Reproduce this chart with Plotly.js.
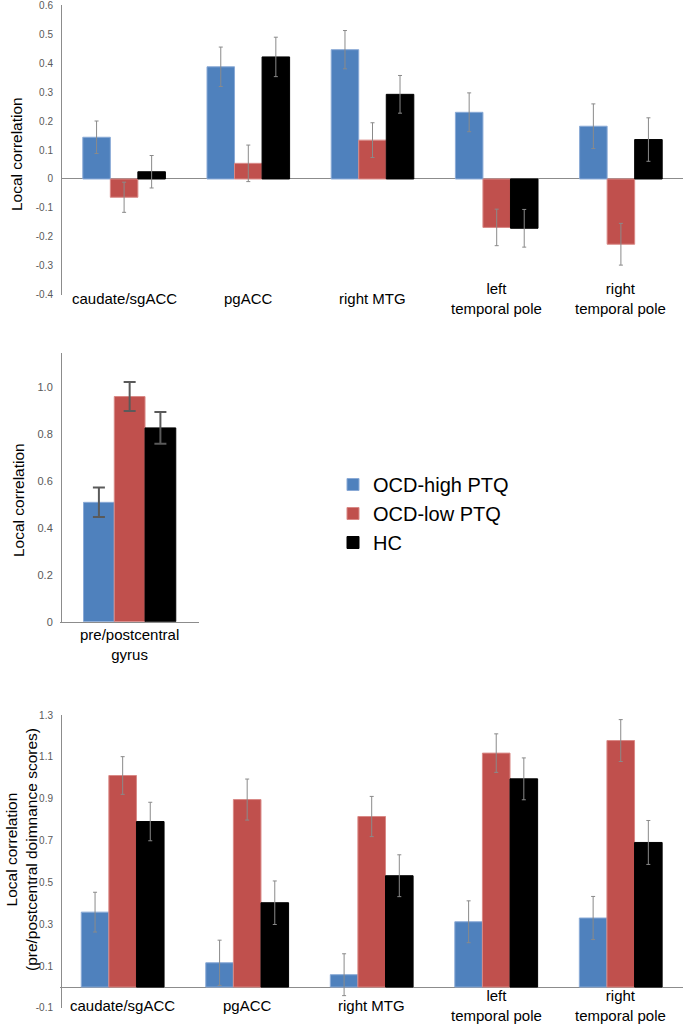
<!DOCTYPE html>
<html>
<head>
<meta charset="utf-8">
<script src="https://cdn.plot.ly/plotly-3.0.1.min.js"></script>
<style>html,body{margin:0;padding:0;background:#fff;}#chart{width:685px;height:1026px;}</style>
</head>
<body>
<div id="chart"></div>
<script>
// ---- data ----
const groups = ['OCD-high PTQ', 'OCD-low PTQ', 'HC'];
const categories = ['caudate/sgACC', 'pgACC', 'right MTG', 'left temporal pole', 'right temporal pole'];
const categoryLabels = ['caudate/sgACC', 'pgACC', 'right MTG', 'left<br>temporal pole', 'right<br>temporal pole'];

// top panel
const topHigh = [0.144, 0.387, 0.446, 0.230, 0.182];
const topHighErr = [0.056, 0.068, 0.066, 0.067, 0.077];
const topLow = [-0.063, 0.054, 0.134, -0.167, -0.225];
const topLowErr = [0.052, 0.063, 0.060, 0.063, 0.072];
const topHC = [0.025, 0.421, 0.292, -0.170, 0.136];
const topHCErr = [0.056, 0.068, 0.065, 0.065, 0.075];
const topTickVals = [-0.4, -0.3, -0.2, -0.1, 0, 0.1, 0.2, 0.3, 0.4, 0.5, 0.6];
const topTickText = ['-0.4', '-0.3', '-0.2', '-0.1', '0', '0.1', '0.2', '0.3', '0.4', '0.5', '0.6'];

// middle panel
const midCategory = ['pre/postcentral gyrus'];
const midLabel = 'pre/postcentral<br>gyrus';
const midHigh = [0.510];
const midHighErr = [0.063];
const midLow = [0.962];
const midLowErr = [0.062];
const midHC = [0.828];
const midHCErr = [0.068];
const midTickVals = [0, 0.2, 0.4, 0.6, 0.8, 1.0];
const midTickText = ['0', '0.2', '0.4', '0.6', '0.8', '1.0'];

// bottom panel
const botHigh = [0.358, 0.116, 0.059, 0.312, 0.330];
const botHighErr = [0.095, 0.108, 0.100, 0.100, 0.103];
const botLow = [1.011, 0.896, 0.815, 1.118, 1.178];
const botLowErr = [0.090, 0.098, 0.096, 0.092, 0.100];
const botHC = [0.791, 0.403, 0.532, 0.995, 0.691];
const botHCErr = [0.092, 0.104, 0.100, 0.100, 0.105];
const botTickVals = [-0.1, 0.1, 0.3, 0.5, 0.7, 0.9, 1.1, 1.3];
const botTickText = ['-0.1', '0.1', '0.3', '0.5', '0.7', '0.9', '1.1', '1.3'];

// ---- styling ----
const W = 685, H = 1026;
const px = v => v / W;
const py = v => 1 - v / H;
const colors = ['#4F81BD', '#C0504D', '#000000'];
const edge = ['#8AAAD6', '#D98986', '#000000'];
const FONT = 'Liberation Sans, Arial, Helvetica, sans-serif';

function barTrace(x, y, err, gi, xa, ya, showlegend, errStyle) {
  return {
    type: 'bar', x: x, y: y, name: groups[gi],
    xaxis: xa, yaxis: ya, showlegend: showlegend, legendgroup: groups[gi],
    marker: { color: colors[gi], line: { color: edge[gi], width: 1 } },
    error_y: Object.assign({ type: 'data', array: err, visible: true }, errStyle),
    hoverinfo: 'x+y'
  };
}
const thinErr = { color: '#8a8a8a', thickness: 1, width: 2 };
const thickErr = { color: '#5a5a5a', thickness: 2, width: 6 };

const data = [
  barTrace(categories, topHigh, topHighErr, 0, 'x', 'y', true, thinErr),
  barTrace(categories, topLow, topLowErr, 1, 'x', 'y', true, thinErr),
  barTrace(categories, topHC, topHCErr, 2, 'x', 'y', true, thinErr),
  barTrace(midCategory, midHigh, midHighErr, 0, 'x2', 'y2', false, thickErr),
  barTrace(midCategory, midLow, midLowErr, 1, 'x2', 'y2', false, thickErr),
  barTrace(midCategory, midHC, midHCErr, 2, 'x2', 'y2', false, thickErr),
  barTrace(categories, botHigh, botHighErr, 0, 'x3', 'y3', false, thinErr),
  barTrace(categories, botLow, botLowErr, 1, 'x3', 'y3', false, thinErr),
  barTrace(categories, botHC, botHCErr, 2, 'x3', 'y3', false, thinErr)
];

const tickFont = { family: FONT, size: 10, color: '#595959' };
function yAxis(domain, range, vals, text, zeroline, size) {
  return {
    domain: domain, range: range, tickmode: 'array', tickvals: vals, ticktext: text,
    showgrid: false, zeroline: zeroline, zerolinecolor: '#8c8c8c', zerolinewidth: 1,
    showline: true, linecolor: '#8c8c8c', linewidth: 1, ticks: '',
    ticklabelstandoff: 6, ticklabeloverflow: 'allow',
    tickfont: Object.assign({}, tickFont, { size: size || 10 }),
    fixedrange: true
  };
}
function xAxis(domain, range, anchor, showline) {
  return {
    domain: domain, range: range, anchor: anchor, type: 'category',
    showticklabels: false, showgrid: false, zeroline: false,
    showline: !!showline, linecolor: '#8c8c8c', linewidth: 1, ticks: '', fixedrange: true
  };
}

const annotations = [];
categoryLabels.forEach((lab, i) => {
  annotations.push({ xref: 'x', yref: 'paper', x: i, y: py(298.5), text: lab, showarrow: false,
    xanchor: 'center', yanchor: 'middle', font: { family: FONT, size: 15, color: '#000' } });
  annotations.push({ xref: 'x3', yref: 'paper', x: i, y: py(1005), text: lab, showarrow: false,
    xanchor: 'center', yanchor: 'middle', font: { family: FONT, size: 15, color: '#000' } });
});
annotations.push({ xref: 'x2', yref: 'paper', x: 0, y: py(644.5), text: midLabel, showarrow: false,
  xanchor: 'center', yanchor: 'middle', font: { family: FONT, size: 15, color: '#000' } });
annotations.push({ xref: 'paper', yref: 'paper', x: px(16), y: py(154), text: 'Local correlation',
  textangle: -90, showarrow: false, xanchor: 'center', yanchor: 'middle',
  font: { family: FONT, size: 15.5, color: '#000' } });
annotations.push({ xref: 'paper', yref: 'paper', x: px(18), y: py(500), text: 'Local correlation',
  textangle: -90, showarrow: false, xanchor: 'center', yanchor: 'middle',
  font: { family: FONT, size: 15.5, color: '#000' } });
annotations.push({ xref: 'paper', yref: 'paper', x: px(21), y: py(850),
  text: 'Local correlation<br>(pre/postcentral doimnance scores)',
  textangle: -90, showarrow: false, xanchor: 'center', yanchor: 'middle',
  font: { family: FONT, size: 15.5, color: '#000' } });

const layout = {
  width: W, height: H,
  margin: { l: 0, r: 0, t: 0, b: 0, pad: 0 },
  paper_bgcolor: '#fff', plot_bgcolor: 'rgba(0,0,0,0)',
  barmode: 'group', bargap: 0.335, bargroupgap: 0,
  font: { family: FONT },
  xaxis: xAxis([px(62), px(683)], [-0.5, 4.5], 'y', false),
  yaxis: yAxis([py(295), py(5)], [-0.4001, 0.6001], topTickVals, topTickText, true),
  xaxis2: xAxis([px(60.3), px(199)], [-0.5, 0.5], 'y2', true),
  yaxis2: yAxis([py(621.7), py(353)], [0, 1.148], midTickVals, midTickText, false, 11),
  xaxis3: xAxis([px(60.4), px(683)], [-0.5, 4.5], 'y3', false),
  yaxis3: yAxis([py(1008), py(715)], [-0.1001, 1.3001], botTickVals, botTickText, true),
  showlegend: true,
  legend: {
    x: px(333), y: py(465), xanchor: 'left', yanchor: 'top',
    font: { family: FONT, size: 20, color: '#000' },
    bgcolor: 'rgba(0,0,0,0)', traceorder: 'normal', itemclick: false, itemdoubleclick: false
  },
  annotations: annotations
};

Plotly.newPlot('chart', data, layout, { displayModeBar: false, staticPlot: true });
</script>
</body>
</html>
